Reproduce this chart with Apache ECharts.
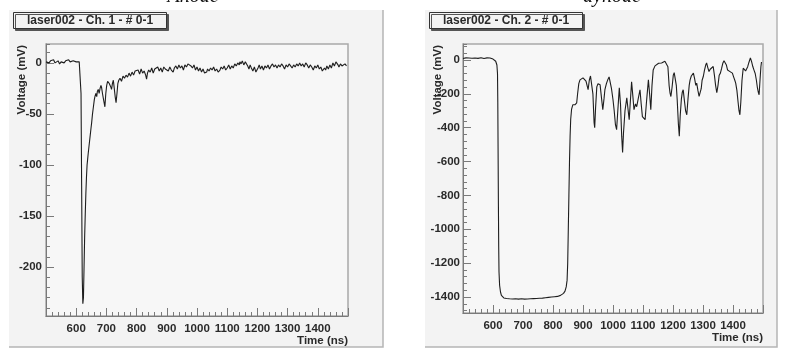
<!DOCTYPE html>
<html><head><meta charset="utf-8">
<script src="https://cdn.jsdelivr.net/npm/echarts@6/dist/echarts.min.js"></script>
<style>html,body{margin:0;padding:0;background:#fff;}#c{width:796px;height:349px;}</style>
</head><body><div id="c"></div>
<script>
// ---- Data ----
const panelTitles = ['Anode', 'dynode'];
const boxTitles = ['laser002 - Ch. 1 - # 0-1', 'laser002 - Ch. 2 - # 0-1'];
const xName = 'Time (ns)';
const yName = 'Voltage (mV)';
const xRange = [500, 1500];
const y1Range = [-248, 18.5];
const y2Range = [-1494, 94];

const ch1Time = [500,505,510,515,520,525,530,535,540,545,550,555,560,565,570,575,580,585,590,595,600,605,610,614,616,618,620,622,624,626,628,630,632,634,636,638,640,643,646,649,651,654,657,660,662,665,668,670,673,676,679,682,684,687,690,693,695,698,701,704,706,709,712,715,717,720,723,726,729,732,735,738,741,745,750,755,760,765,770,775,780,785,790,795,800,805,810,815,820,825,830,833,836,840,845,850,855,860,865,870,875,880,885,890,895,900,905,910,915,921,925,930,935,940,945,950,955,960,965,970,975,980,985,990,995,1000,1005,1010,1015,1020,1025,1032,1035,1040,1045,1050,1055,1060,1065,1070,1076,1080,1085,1090,1095,1100,1105,1110,1115,1120,1125,1130,1135,1140,1142,1146,1150,1155,1160,1164,1168,1172,1176,1180,1185,1190,1195,1198,1202,1206,1210,1215,1220,1225,1230,1235,1240,1245,1250,1255,1260,1265,1270,1275,1280,1285,1290,1295,1300,1305,1310,1315,1320,1325,1330,1335,1340,1345,1350,1355,1360,1365,1370,1375,1380,1385,1390,1395,1400,1405,1410,1415,1418,1422,1426,1430,1435,1440,1445,1450,1455,1460,1463,1467,1470,1475,1480,1485,1490,1495];
const ch1Volt = [1,2,0,2,1,3,0,1,2,-1,1,2,0,2,1,3,1,0,2,3,1,2,1,0,-30,-120,-210,-236,-230,-200,-170,-148,-128,-112,-100,-94,-88,-80,-72,-64,-59,-50,-43,-36,-33,-30,-33,-28,-26,-30,-25,-22,-24,-30,-35,-40,-43,-30,-22,-18,-17,-20,-22,-24,-26,-20,-17,-25,-33,-39,-30,-20,-17,-15,-18,-13,-15,-12,-14,-10,-13,-9,-12,-8,-9,-7,-11,-6,-10,-8,-12,-16,-10,-7,-9,-5,-10,-6,-7,-4,-8,-5,-9,-4,-6,-5,-8,-4,-7,-9,-5,-3,-6,-2,-5,-3,-7,-2,-4,-1,0,-3,-5,-2,-7,-4,-8,-5,-9,-6,-10,-9,-6,-8,-5,-7,-4,-8,-6,-9,-7,-4,-6,-3,-7,-5,-2,-6,-3,-5,-1,-3,0,-2,1,-1,2,-2,1,0,-3,-6,-2,-5,-8,-4,-9,-9,-5,-2,-6,-3,-7,-3,-5,-2,-6,-3,-1,-4,-2,-5,-2,-4,-1,-3,-6,-2,-4,-1,-3,-5,-2,-4,-1,-3,0,-3,-1,-4,0,-2,-5,-2,-4,-7,-3,-5,-2,-6,-4,-8,-9,-5,-7,-3,-6,-2,-5,0,-3,1,2,-2,-4,-1,-3,-4,-1,-3];

const ch2Time = [500,505,510,515,520,525,530,535,540,545,550,555,560,565,570,575,580,585,590,595,600,603,606,609,611,613,615,616,617,618,619,620,622,625,628,632,636,640,645,650,655,660,665,670,675,680,685,690,695,700,705,710,715,720,725,730,735,740,745,750,755,760,765,770,775,780,785,790,795,800,805,810,815,820,825,830,835,840,844,847,849,851,853,855,857,859,862,866,870,873,876,879,882,886,890,895,900,905,910,913,917,921,925,929,933,937,939,942,946,950,954,957,962,966,970,973,978,983,987,990,995,1000,1004,1008,1012,1016,1021,1025,1029,1032,1035,1040,1046,1050,1054,1058,1062,1066,1070,1075,1079,1084,1090,1094,1098,1103,1107,1112,1118,1122,1126,1130,1134,1140,1146,1152,1157,1162,1168,1173,1179,1183,1187,1190,1193,1197,1201,1204,1207,1211,1214,1218,1221,1224,1228,1231,1234,1238,1242,1246,1250,1254,1257,1261,1265,1268,1272,1276,1279,1283,1287,1290,1294,1297,1301,1305,1309,1312,1316,1320,1324,1328,1334,1338,1342,1346,1350,1354,1358,1362,1366,1370,1374,1378,1382,1386,1390,1394,1398,1402,1406,1409,1413,1417,1420,1423,1426,1430,1434,1438,1442,1445,1449,1453,1458,1462,1466,1470,1474,1478,1481,1484,1487,1490,1493,1495];
const ch2Volt = [8,10,12,9,11,13,10,8,11,12,9,10,13,11,8,10,12,9,11,7,5,2,-3,-8,-15,-30,-80,-250,-550,-850,-1100,-1250,-1330,-1370,-1390,-1400,-1405,-1410,-1408,-1412,-1410,-1415,-1411,-1414,-1410,-1416,-1412,-1414,-1410,-1415,-1412,-1416,-1411,-1414,-1410,-1413,-1409,-1412,-1408,-1411,-1407,-1410,-1406,-1409,-1404,-1407,-1402,-1405,-1400,-1402,-1398,-1400,-1396,-1393,-1390,-1385,-1378,-1365,-1340,-1300,-1200,-1000,-800,-600,-450,-350,-290,-265,-255,-265,-262,-253,-200,-140,-118,-110,-106,-115,-125,-130,-176,-120,-95,-88,-200,-371,-400,-280,-159,-140,-150,-147,-230,-294,-230,-176,-140,-115,-100,-106,-170,-235,-300,-380,-412,-300,-165,-260,-450,-547,-430,-300,-224,-290,-353,-240,-129,-210,-294,-260,-276,-230,-176,-260,-335,-340,-353,-240,-118,-200,-294,-150,-59,-35,-24,-20,-15,-18,-10,-8,-6,-40,-150,-194,-216,-160,-90,-75,-69,-150,-235,-380,-451,-330,-230,-190,-176,-240,-300,-324,-230,-150,-118,-95,-85,-78,-110,-150,-137,-180,-215,-224,-170,-120,-98,-60,-30,-18,-45,-69,-55,-45,-39,-90,-150,-194,-150,-90,-78,-50,-20,-5,0,-30,-60,-69,-69,-75,-78,-100,-120,-137,-180,-250,-300,-324,-250,-120,-49,-55,-65,-69,-40,-15,12,-10,-39,-60,-80,-120,-160,-188,-206,-120,-40,-12];

// ---- Chart ----
const FONT = 'Liberation Sans';
const TXT = '#2a2a2a';
const AX = '#7a7a7a';
const grids = [
  {left: 46, top: 44, width: 302, height: 272},
  {left: 463, top: 44, width: 300, height: 269}
];
const lbl = {fontSize: 11.5, fontWeight: 'bold', color: TXT, fontFamily: FONT};
const plain = v => String(Math.round(v));

function xAxisFor(gi) {
  return {
    gridIndex: gi, type: 'value', min: xRange[0], max: xRange[1], interval: 100,
    axisLine: {show: true, onZero: false, lineStyle: {color: AX, width: 1}},
    axisTick: {show: true, inside: true, length: 8, lineStyle: {color: AX}},
    minorTick: {show: true, splitNumber: 5, length: 4, lineStyle: {color: AX}},
    splitLine: {show: false},
    axisLabel: Object.assign({showMinLabel: false, showMaxLabel: false, margin: 7, formatter: plain}, lbl),
    name: xName, nameLocation: 'end', nameGap: 0,
    nameTextStyle: Object.assign({align: 'right', verticalAlign: 'top', padding: [19, 0, 0, 0]}, lbl)
  };
}
function yMajor(gi, r, step, margin) {
  return {
    gridIndex: gi, type: 'value', position: 'left', min: r[0], max: r[1],
    minInterval: step, maxInterval: step,
    axisLine: {show: true, onZero: false, lineStyle: {color: AX, width: 1}},
    axisTick: {show: true, inside: true, length: 8, lineStyle: {color: AX}},
    splitLine: {show: false},
    axisLabel: Object.assign({showMinLabel: false, showMaxLabel: false, margin: margin, formatter: plain}, lbl)
  };
}
function yMinor(gi, r, step) {
  return {
    gridIndex: gi, type: 'value', position: 'left', offset: 0, min: r[0], max: r[1],
    minInterval: step, maxInterval: step,
    axisLine: {show: false},
    axisTick: {show: true, inside: true, length: 4, lineStyle: {color: AX}},
    splitLine: {show: false},
    axisLabel: {show: false}
  };
}

const chart = echarts.init(document.getElementById('c'), null, {renderer: 'canvas'});
chart.setOption({
  animation: false,
  backgroundColor: '#ffffff',
  title: [
    {text: panelTitles[0], left: 193, textAlign: 'center', top: -13, padding: 0,
     textStyle: {fontFamily: 'Liberation Serif', fontStyle: 'italic', fontWeight: 'normal', fontSize: 20, color: '#111'}},
    {text: panelTitles[1], left: 612, textAlign: 'center', top: -13, padding: 0,
     textStyle: {fontFamily: 'Liberation Serif', fontStyle: 'italic', fontWeight: 'normal', fontSize: 20, color: '#111'}},
    {text: boxTitles[0], left: 13, top: 13, padding: [2, 14, 2, 14], borderColor: '#333', borderWidth: 1,
     backgroundColor: '#f3f3f3', shadowColor: '#555', shadowOffsetX: 2, shadowOffsetY: 2, shadowBlur: 0,
     textStyle: {fontSize: 12, fontWeight: 'bold', fontFamily: FONT, color: TXT, lineHeight: 11}},
    {text: boxTitles[1], left: 429, top: 13, padding: [2, 14, 2, 14], borderColor: '#333', borderWidth: 1,
     backgroundColor: '#f3f3f3', shadowColor: '#555', shadowOffsetX: 2, shadowOffsetY: 2, shadowBlur: 0,
     textStyle: {fontSize: 12, fontWeight: 'bold', fontFamily: FONT, color: TXT, lineHeight: 11}}
  ],
  graphic: [
    {type: 'rect', z: -10, shape: {x: 9, y: 10, width: 374, height: 337}, style: {fill: '#f3f3f3'}},
    {type: 'polyline', z: -9, shape: {points: [[383, 10], [383, 347], [9, 347]]}, style: {stroke: '#b5b5b5', lineWidth: 1.5, fill: null}},
    {type: 'rect', z: -10, shape: {x: 425, y: 10, width: 352, height: 337}, style: {fill: '#f3f3f3'}},
    {type: 'polyline', z: -9, shape: {points: [[777, 10], [777, 347], [425, 347]]}, style: {stroke: '#b5b5b5', lineWidth: 1.5, fill: null}},
    {type: 'text', x: 22, y: 45, rotation: Math.PI / 2,
     style: {text: yName, align: 'right', verticalAlign: 'middle', fontSize: 11.5, fontWeight: 'bold', fontFamily: FONT, fill: TXT}},
    {type: 'text', x: 438, y: 45, rotation: Math.PI / 2,
     style: {text: yName, align: 'right', verticalAlign: 'middle', fontSize: 11.5, fontWeight: 'bold', fontFamily: FONT, fill: TXT}}
  ],
  grid: grids.map(g => Object.assign({show: true, backgroundColor: '#f7f7f7', borderColor: '#a9a9a9', borderWidth: 1.5}, g)),
  xAxis: [xAxisFor(0), xAxisFor(1)],
  yAxis: [yMajor(0, y1Range, 50, 4), yMinor(0, y1Range, 10), yMajor(1, y2Range, 200, 3), yMinor(1, y2Range, 40)],
  series: [
    {type: 'line', xAxisIndex: 0, yAxisIndex: 0, showSymbol: false, symbol: 'none',
     data: ch1Time.map((t, i) => [t, ch1Volt[i]]), lineStyle: {color: '#1e1e1e', width: 1.1}},
    {type: 'line', xAxisIndex: 1, yAxisIndex: 2, showSymbol: false, symbol: 'none',
     data: ch2Time.map((t, i) => [t, ch2Volt[i]]), lineStyle: {color: '#1e1e1e', width: 1.1}}
  ]
});
</script></body></html>
